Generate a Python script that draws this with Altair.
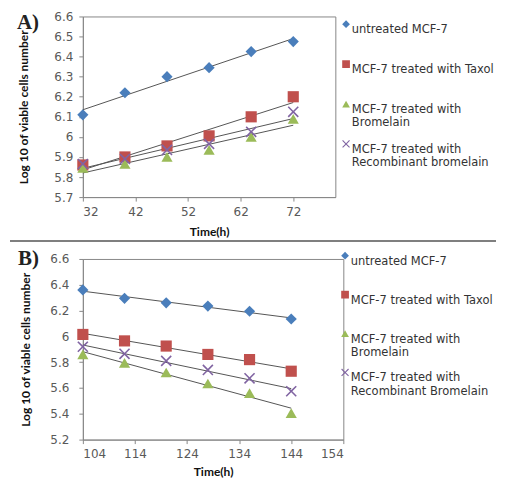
import altair as alt
import pandas as pd

# ---------------- data ----------------
series_a = ["untreated MCF-7", "MCF-7 treated with Taxol",
            "MCF-7 treated with|Bromelain", "MCF-7 treated with|Recombinant bromelain"]
series_b = ["untreated MCF-7", "MCF-7 treated with Taxol",
            "MCF-7 treated with|Bromelain", "MCF-7 treated with|Recombinant Bromelain"]

time_a = [32, 40, 48, 56, 64, 72]
untreated_a = [6.11, 6.22, 6.30, 6.345, 6.425, 6.475]
taxol_a = [5.86, 5.90, 5.955, 6.005, 6.10, 6.20]
bromelain_a = [5.845, 5.865, 5.90, 5.935, 6.00, 6.09]
recomb_a = [5.865, 5.89, 5.935, 5.965, 6.025, 6.125]

time_b = [104, 112, 120, 128, 136, 144]
untreated_b = [6.36, 6.295, 6.26, 6.235, 6.195, 6.135]
taxol_b = [6.015, 5.965, 5.925, 5.86, 5.82, 5.73]
bromelain_b = [5.86, 5.795, 5.72, 5.635, 5.56, 5.405]
recomb_b = [5.92, 5.865, 5.81, 5.74, 5.675, 5.575]

xticks_a = [32, 42, 52, 62, 72]
yticks_a = [5.7, 5.8, 5.9, 6.0, 6.1, 6.2, 6.3, 6.4, 6.5, 6.6]
xticks_b = [104, 114, 124, 134, 144, 154]
yticks_b = [5.2, 5.4, 5.6, 5.8, 6.0, 6.2, 6.4, 6.6]

panel_labels = ["A)", "B)"]

colors = ["#4A7EBB", "#C0504D", "#9BBB59", "#8064A2"]
x_path = "M-1,-0.8L-0.8,-1L0,-0.2L0.8,-1L1,-0.8L0.2,0L1,0.8L0.8,1L0,0.2L-0.8,1L-1,0.8L-0.2,0Z"
shapes = ["diamond", "square", "triangle-up", x_path]


def long_df(times, names, cols):
    rows = []
    for name, vals in zip(names, cols):
        for t, v in zip(times, vals):
            rows.append({"t": t, "v": v, "s": name})
    return pd.DataFrame(rows)


df_a = long_df(time_a, series_a, [untreated_a, taxol_a, bromelain_a, recomb_a])
df_b = long_df(time_b, series_b, [untreated_b, taxol_b, bromelain_b, recomb_b])


def panel(df, series, xdom, xticks, ydom, yticks, w, h, label, lab_x, lab_y,
          tpad, lpad, xtpad, legx, legy, rowpad, extra):
    legend = alt.Legend(orient="none", legendX=legx, legendY=legy, title=None,
                        labelExpr="split(datum.label, '|')",
                        symbolSize=60, labelFont="DejaVu Sans", labelFontSize=11.5,
                        labelColor="#333333", labelOffset=0, rowPadding=rowpad,
                        labelBaseline="top", labelLimit=300, gridAlign="all",
                        padding=0)
    x = alt.X("t:Q", scale=alt.Scale(domain=xdom, nice=False, zero=False),
              axis=alt.Axis(values=xticks, title="Time(h)", format="d",
                            labelPadding=5, titlePadding=xtpad))
    y = alt.Y("v:Q", scale=alt.Scale(domain=ydom, nice=False, zero=False),
              axis=alt.Axis(values=yticks, format=".1~f",
                            title="Log 10 of viable cells number",
                            titlePadding=tpad, labelPadding=lpad))
    base = alt.Chart(df)
    trend = base.transform_regression("t", "v", groupby=["s"]).mark_line(
        color="#555555", strokeWidth=1).encode(x=x, y=y, detail="s:N")
    pts = base.mark_point(filled=True, opacity=1, size=125).encode(
        x=x, y=y,
        color=alt.Color("s:N", scale=alt.Scale(domain=series, range=colors), legend=legend),
        shape=alt.Shape("s:N", scale=alt.Scale(domain=series, range=shapes), legend=legend),
    )
    tag = alt.Chart(pd.DataFrame({"label": [label]})).mark_text(
        font="Liberation Serif", fontSize=21, fontWeight="bold", color="#222222",
        align="left", baseline="alphabetic").encode(
        x=alt.value(lab_x), y=alt.value(lab_y), text="label:N")
    layers = [trend, pts, tag] + extra
    return alt.layer(*layers).properties(width=w, height=h)


sep = alt.Chart(pd.DataFrame({"k": [0]})).mark_rule(color="#555555", strokeWidth=1.5).encode(
    x=alt.value(-73), x2=alt.value(414), y=alt.value(225))

chart_a = panel(df_a, series_a, [32, 80], xticks_a, [5.7, 6.6], yticks_a, 253, 181,
                panel_labels[0], -66, 13, 23, 6, 9, 258, 2, 9, [sep])
chart_b = panel(df_b, series_b, [104, 154], xticks_b, [5.2, 6.6], yticks_b, 261, 181,
                panel_labels[1], -65, 6, 17, 10, 7, 257, -9, 8, [])

chart = alt.concat(chart_a, chart_b, columns=1, spacing=4).resolve_scale(
    color="independent", shape="independent").resolve_legend(
    color="independent", shape="independent").properties(
    padding={"left": 0, "top": 1, "right": 0, "bottom": 0}
).configure_view(stroke="#888888", strokeWidth=1).configure_axis(
    grid=False, domainColor="#888888", tickColor="#888888", tickSize=4,
    labelFont="DejaVu Sans", labelFontSize=12, labelColor="#595959",
    titleFont="Lato", titleFontSize=12, titleFontWeight="bold", titleColor="#111111"
)

chart.save("out.html", embed_options={"renderer": "svg", "actions": False})
